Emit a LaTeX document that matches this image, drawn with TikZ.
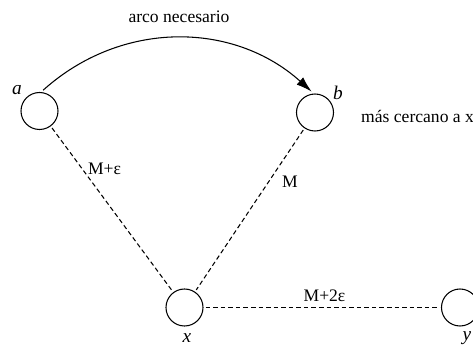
\documentclass[tikz,border=0pt]{standalone}
\usepackage{fontspec}
\setmainfont{Liberation Serif}
\usetikzlibrary{arrows.meta}

\begin{document}
\begin{tikzpicture}[font=\fontsize{10}{12}\selectfont,>=Latex,
  vtx/.style={circle,draw=black,line width=0.6pt,minimum size=0.74cm,
    inner sep=0pt,outer sep=1.5pt},
  vlbl/.style={anchor=base,font=\fontsize{11}{13}\selectfont\itshape},
  lbl/.style={anchor=base},
  arc/.style={line width=0.6pt,->,>={Latex[length=9pt,width=5.5pt]}},
  dist/.style={line width=0.6pt,dash pattern=on 2.6pt off 1.7pt},
]

\useasboundingbox (0,0) rectangle (9.46,6.90);

% ------------------------------------------------------------------
% vertices
% ------------------------------------------------------------------
\node[vtx] (a) at (0.79,4.68) {};
\node[vtx] (b) at (6.30,4.65) {};
\node[vtx] (x) at (3.69,0.75) {};
\node[vtx] (y) at (9.20,0.75) {};

\node[vlbl] (la) at (0.34,5.00) {a};
\node[vlbl] (lb) at (6.76,4.90) {b};
\node[vlbl] (lx) at (3.74,0.05) {x};
\node[vlbl] (ly) at (9.34,0.09) {y};

% ------------------------------------------------------------------
% distances and the needed arc
% ------------------------------------------------------------------
\draw[arc] (a.80) to[out=42,in=138] (b.99);
\node[lbl] (arco) at (3.58,6.44) {arco necesario};
\node[lbl,anchor=base west] (cerca) at (7.10,4.44) {más cercano a x};

\draw[dist] (a) -- (x);
\draw[dist] (b) -- (x);
\draw[dist] (x) -- (y);
\node[lbl] (dax) at (2.09,3.40) {M+ε};
\node[lbl] (dbx) at (5.80,3.14) {M};
\node[lbl] (dxy) at (6.49,0.86) {M+2ε};

\end{tikzpicture}
\end{document}
